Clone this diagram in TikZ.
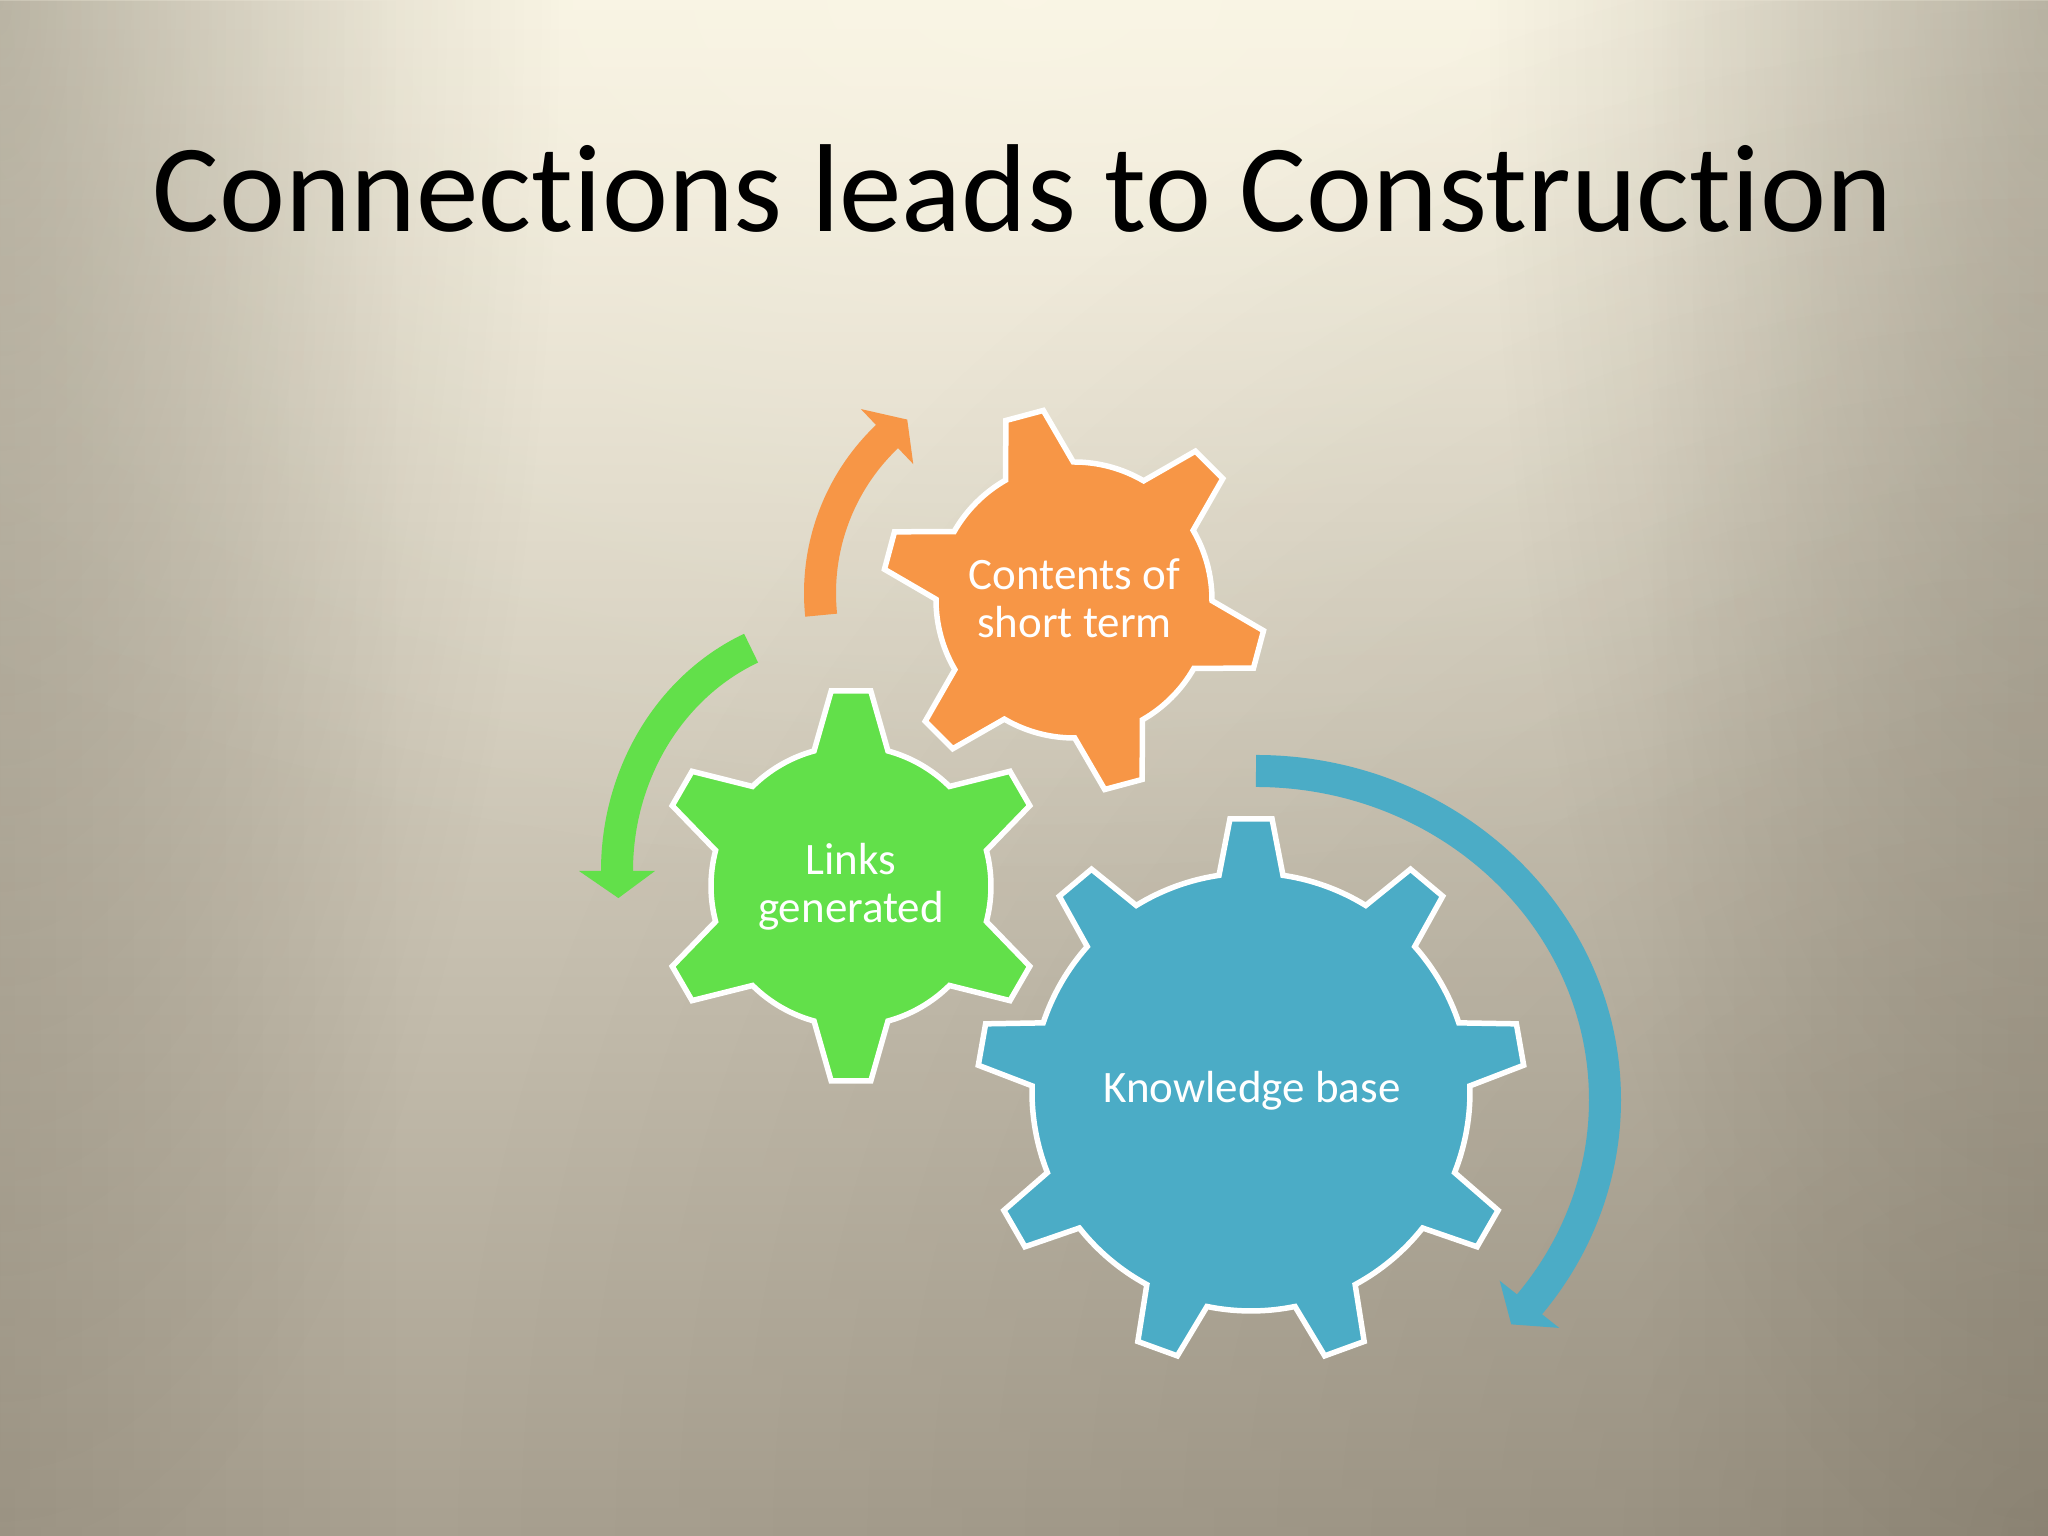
\documentclass[tikz,border=0pt]{standalone}
\usepackage{fontspec}
\setmainfont{Carlito}[Ligatures={NoCommon,NoContextual}]
\usetikzlibrary{fadings}
\definecolor{gOrange}{HTML}{F79646}
\definecolor{gGreen}{HTML}{62E04A}
\definecolor{gBlue}{HTML}{4BACC6}
\definecolor{bgTop}{HTML}{F6F1E1}
\definecolor{bgMid}{HTML}{D0C9B9}
\definecolor{bgBot}{HTML}{A8A090}
\definecolor{vign}{HTML}{4A4232}
\definecolor{glowc}{HTML}{FFFBEA}
\tikzfading[name=radfade, inner color=transparent!0, outer color=transparent!100]
\tikzfading[name=opaqueleft, left color=transparent!0, right color=transparent!100]
\tikzfading[name=opaqueright, left color=transparent!100, right color=transparent!0]
\tikzset{
  gearline/.style={draw=white, line width=0.055cm, line join=miter},
  geartext/.style={text=white, align=center, inner sep=0pt, font=\fontsize{12.8}{13.66}\selectfont},
  titletext/.style={text=black, inner sep=0pt, font=\fontsize{35.6}{42}\selectfont}
}
% #1 colour, #2 cx, #3 cy, #4 inner r, #5 outer r, #6 teeth, #7 first angle, #8 base half-angle, #9 tip half-angle
\newcommand\mygear[9]{%
  \pgfmathsetmacro\gstep{360/#6}%
  \pgfmathtruncatemacro\glast{#6-2}%
  \pgfmathsetmacro\gfin{#7+(#6-1)*\gstep}%
  \filldraw[gearline, fill=#1, shift={(#2,#3)}] ({#7-#9}:#5)
    \foreach \k in {0,...,\glast}{
      -- ({#7+\k*\gstep+#9}:#5) -- ({#7+\k*\gstep+#8}:#4)
      arc[start angle={#7+\k*\gstep+#8}, end angle={#7+(\k+1)*\gstep-#8}, radius=#4]
      -- ({#7+(\k+1)*\gstep-#9}:#5)
    }
    -- ({\gfin+#9}:#5) -- ({\gfin+#8}:#4)
    arc[start angle={\gfin+#8}, end angle={#7+360-#8}, radius=#4] -- cycle;
}
% #1 colour, #2 cx, #3 cy, #4 a, #5 b, #6 tail angle, #7 shaft end, #8 head base angle, #9 tip angle
\newcommand\myarrow[9]{%
  \begin{scope}[shift={(#2,#3)}]
    \pgfmathsetmacro\aout{#4+0.38}\pgfmathsetmacro\bout{#5+0.38}%
    \pgfmathsetmacro\ain{#4-0.38}\pgfmathsetmacro\bin{#5-0.38}%
    \draw[#1, line width=0.32cm] (#6:#4 and #5) arc[start angle=#6, end angle=#7, x radius=#4, y radius=#5];
    \fill[#1] ({#8}:{\aout} and {\bout}) -- ({#9}:{#4} and {#5}) -- ({#8}:{\ain} and {\bin}) -- cycle;
  \end{scope}}
\begin{document}
\begin{tikzpicture}
\useasboundingbox (0,0) rectangle (20.48,15.36);
\begin{scope}
  \clip (0,0) rectangle (20.48,15.36);
  \shade[top color=bgTop, middle color=bgMid, bottom color=bgBot] (0,0) rectangle (20.48,15.36);
  \fill[glowc, opacity=0.45, path fading=radfade] (10.24,15.4) ellipse (17 and 9);
  \fill[vign, opacity=0.18, path fading=opaqueleft] (-2,0) rectangle (4,15.36);
  \fill[vign, opacity=0.18, path fading=opaqueright] (16.48,0) rectangle (22.48,15.36);
  \fill[vign, opacity=0.26, path fading=radfade] (0,15.36) ellipse (5.6 and 16);
  \fill[vign, opacity=0.26, path fading=radfade] (20.48,15.36) ellipse (5.6 and 16);
  \fill[vign, opacity=0.2, path fading=radfade] (20.48,0) circle (16);
\end{scope}

% circular arrows
\myarrow{gOrange}{10.36}{9.43}{2.16}{2.16}{185.9}{131.6}{133.6}{126.6}
\myarrow{gGreen}{8.40}{6.65}{2.23}{2.43}{113.5}{182}{180}{186.4}
\myarrow{gBlue}{12.56}{4.36}{3.49}{3.29}{90}{-40.4}{-38.4}{-43}

% gears
\mygear{gOrange}{10.74}{9.36}{1.38}{1.92}{6}{105}{14.7}{5.8}
\mygear{gGreen}{8.51}{6.50}{1.40}{1.96}{6}{90}{15.3}{5.8}
\mygear{gBlue}{12.51}{4.44}{2.19}{2.74}{9}{90}{8.4}{4.4}

% texts
\node[titletext, anchor=base] (title) at (10.225,13.04) {Connections leads to Construction};
\node[geartext] (contents) at (10.745,9.38) {Contents of\\short term};
\node[geartext] (links) at (8.51,6.495) {Links\\generated};
\node[geartext] (knowledge) at (12.52,4.455) {Knowledge base};
\end{tikzpicture}
\end{document}
